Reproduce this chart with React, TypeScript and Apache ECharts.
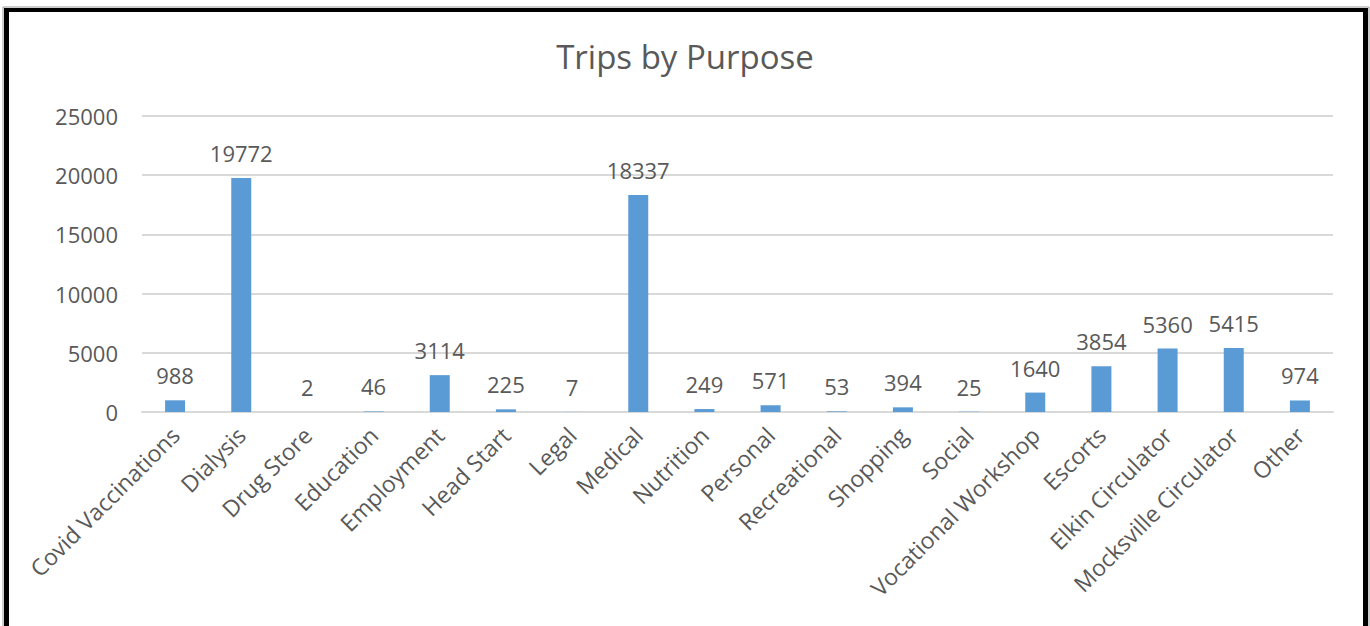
import React, { useEffect, useRef } from "react";
import * as echarts from "echarts";

const categories = [
  "Covid Vaccinations",
  "Dialysis",
  "Drug Store",
  "Education",
  "Employment",
  "Head Start",
  "Legal",
  "Medical",
  "Nutrition",
  "Personal",
  "Recreational",
  "Shopping",
  "Social",
  "Vocational Workshop",
  "Escorts",
  "Elkin Circulator",
  "Mocksville Circulator",
  "Other",
];

const trips = [988, 19772, 2, 46, 3114, 225, 7, 18337, 249, 571, 53, 394, 25, 1640, 3854, 5360, 5415, 974];

const yTicks = { min: 0, max: 25000, interval: 5000 };

const FONT = "'Open Sans', sans-serif";
const GREY = "#595959";

export default function App() {
  const ref = useRef<HTMLDivElement>(null);

  useEffect(() => {
    if (!ref.current) return;
    const chart = echarts.init(ref.current, undefined, { renderer: "svg" });
    chart.setOption({
      animation: false,
      backgroundColor: "#ffffff",
      title: {
        text: "Trips by Purpose",
        left: "center",
        top: 35,
        textStyle: { fontFamily: FONT, fontSize: 33, fontWeight: "normal", color: GREY },
      },
      grid: { left: 142, right: 37, top: 116, bottom: 214, containLabel: false },
      xAxis: {
        type: "category",
        data: categories,
        axisLine: { show: true, lineStyle: { color: "#D9D9D9", width: 2 } },
        axisTick: { show: false },
        axisLabel: {
          interval: 0,
          rotate: 45,
          margin: 19,
          color: GREY,
          fontFamily: FONT,
          fontSize: 23,
        },
      },
      yAxis: {
        type: "value",
        min: yTicks.min,
        max: yTicks.max,
        interval: yTicks.interval,
        axisLine: { show: false },
        axisTick: { show: false },
        axisLabel: {
          color: GREY,
          fontFamily: FONT,
          fontSize: 22,
          margin: 24,
          formatter: (v: number) => String(v),
        },
        splitLine: { lineStyle: { color: "#D9D9D9", width: 2 } },
      },
      series: [
        {
          type: "bar",
          data: trips,
          barWidth: 20,
          itemStyle: { color: "#5B9BD5" },
          label: {
            show: true,
            position: "top",
            distance: 14,
            color: GREY,
            fontFamily: FONT,
            fontSize: 22,
          },
        },
      ],
      graphic: [
        { type: "rect", shape: { x: 3, y: 7, width: 1366, height: 630 }, style: { fill: "none", stroke: "#9a9a9a", lineWidth: 1 }, silent: true },
        { type: "rect", shape: { x: 4, y: 8, width: 5, height: 620 }, style: { fill: "#000" }, silent: true },
        { type: "rect", shape: { x: 4, y: 8, width: 1364, height: 4 }, style: { fill: "#000" }, silent: true },
        { type: "rect", shape: { x: 1363, y: 8, width: 5, height: 620 }, style: { fill: "#000" }, silent: true },
      ],
    });
    return () => chart.dispose();
  }, []);

  return (
    <div
      ref={ref}
      style={{ position: "fixed", left: 0, top: 0, width: 1370, height: 626, background: "#fff" }}
    />
  );
}
